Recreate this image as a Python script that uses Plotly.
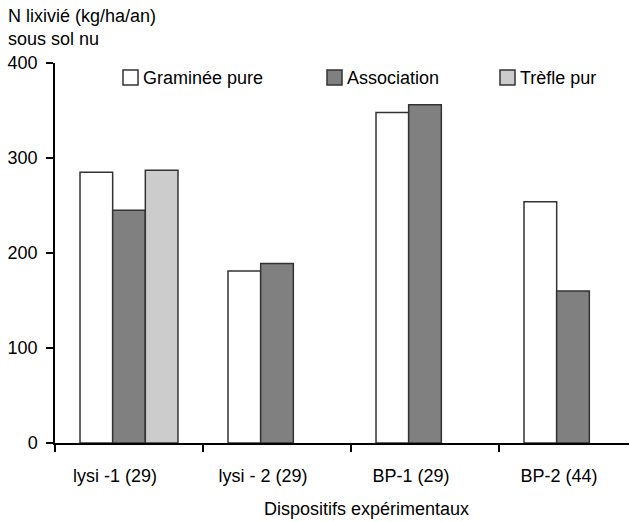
import plotly.graph_objects as go

categories = ["lysi -1 (29)", "lysi - 2 (29)", "BP-1 (29)", "BP-2 (44)"]
graminee = [285, 181, 348, 254]
association = [245, 189, 356, 160]
trefle = [287, None, None, None]
series_names = ["Graminée pure", "Association", "Trèfle pur"]
series_colors = ["#ffffff", "#808080", "#cccccc"]

W, H = 630, 522
ML, MR, MT, MB = 55, 1, 63, 79
PW, PH = W - ML - MR, H - MT - MB
FONT = "Liberation Sans, Arial, Helvetica, sans-serif"
FS = 18


def px2x(px):
    return (px - ML) / PW


def px2y(py):
    return (H - MB - py) / PH


fig = go.Figure()
for name, vals, col in zip(series_names, [graminee, association, trefle], series_colors):
    fig.add_trace(go.Bar(
        x=categories, y=vals, name=name,
        marker=dict(color=col, line=dict(color="#333333", width=1.5)),
        showlegend=False,
    ))

# manual legend (swatch + label)
legend_px = [123, 327, 500]
shapes = []
annotations = []
for lx, name, col in zip(legend_px, series_names, series_colors):
    shapes.append(dict(type="rect", xref="paper", yref="paper",
                       x0=px2x(lx), x1=px2x(lx + 15), y0=px2y(85), y1=px2y(70),
                       fillcolor=col, line=dict(color="#333333", width=1.5)))
    annotations.append(dict(text=name, xref="paper", yref="paper",
                            x=px2x(lx + 18), y=px2y(78), xanchor="left", yanchor="middle",
                            showarrow=False, font=dict(size=FS, color="black", family=FONT)))

annotations.append(dict(text="Dispositifs expérimentaux", xref="paper", yref="paper",
                        x=px2x(366), y=px2y(509), xanchor="center", yanchor="middle",
                        showarrow=False, font=dict(size=FS, color="black", family=FONT)))

annotations.append(dict(text="N lixivié (kg/ha/an)<br>sous sol nu", xref="paper", yref="paper",
                        x=px2x(6), y=px2y(4), xanchor="left", yanchor="top", align="left",
                        showarrow=False, font=dict(size=FS, color="black", family=FONT)))

fig.update_layout(
    width=W, height=H,
    margin=dict(l=ML, r=MR, t=MT, b=MB),
    paper_bgcolor="white", plot_bgcolor="white",
    font=dict(family=FONT, size=FS, color="black"),
    barmode="group", bargap=0.338, bargroupgap=0,
    shapes=shapes,
    annotations=annotations,
)
fig.update_xaxes(
    type="category", range=[-0.5, -0.5 + PW / 148.0],
    showline=True, linecolor="black", linewidth=1.5,
    ticks="outside", tickson="boundaries", ticklen=7, tickwidth=1.5, tickcolor="black",
    ticklabelshift=-14, ticklabelstandoff=16,
    showgrid=False, zeroline=False,
)
fig.update_yaxes(
    range=[0, 400], dtick=100, tick0=0,
    showline=True, linecolor="black", linewidth=1.5,
    ticks="outside", ticklen=7, tickwidth=1.5, tickcolor="black",
    ticklabelstandoff=5,
    showgrid=False, zeroline=False,
)

fig.write_html("out.html", post_script="document.body.style.margin='0';",
               config={"displayModeBar": False})
